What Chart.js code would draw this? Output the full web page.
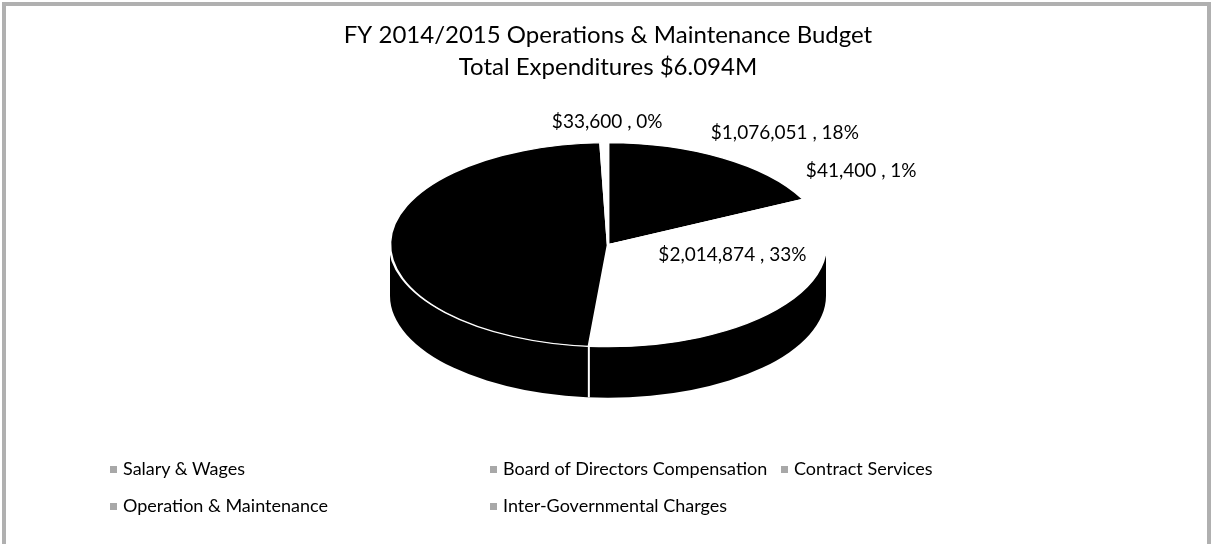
<!DOCTYPE html>
<html>
<head>
<meta charset="utf-8">
<script src="https://cdn.jsdelivr.net/npm/chart.js@4.4.1/dist/chart.umd.min.js"></script>
<style>
    html, body { margin: 0; padding: 0; background: #fff; }
    #wrap { position: relative; width: 1212px; height: 544px; overflow: hidden; }
    #frame {
        position: absolute; left: 2px; top: 2px; right: 1px; bottom: -10px;
        border: 4px solid #b0b0b0; pointer-events: none;
    }
    .legend-item {
        position: absolute; font-family: Lato, sans-serif; font-size: 18px; color: #000;
        white-space: nowrap; transform: translateY(-50%);
    }
    .legend-item i {
        display: inline-block; width: 7px; height: 7px; margin-right: 6px;
        vertical-align: middle; position: relative; top: -1px;
    }
</style>
</head>
<body>
<div id="wrap">
    <canvas id="budgetPie" width="1212" height="544"></canvas>
    <div id="legend"></div>
    <div id="frame"></div>
</div>
<script>
// data
const categories = [
    'Salary & Wages',
    'Board of Directors Compensation',
    'Contract Services',
    'Operation & Maintenance',
    'Inter-Governmental Charges',
];
const amounts = [1076051, 41400, 2014874, 2928075, 33600];
const percentLabels = ['18%', '1%', '33%', '48%', '0%'];
const titleLines = ['FY 2014/2015 Operations & Maintenance Budget', 'Total Expenditures $6.094M'];

// styling
const sliceColors = ['#000000', '#ffffff', '#ffffff', '#000000', '#ffffff'];
const labelColors = ['#000000', '#000000', '#000000', '#000000', '#000000'];
const legendMarker = '#a8a8a8';
// label nudges from the slice's rim point (dx, dy)
const labelOffsets = [[62, -25], [56, -30], [-53, -49], [109, 0], [3, -21]];
const legendCols = [110, 490, 781];
const legendRows = [468, 505];

// squashes the pie into a tilted disc and draws the wall under it
const pie3d = {
    id: 'pie3d',
    beforeDatasetsDraw(chart, args, opts) {
        const ctx = chart.ctx;
        const arcs = chart.getDatasetMeta(0).data;
        const { x: cx, y: cy, outerRadius: r } = arcs[0].getProps(['x', 'y', 'outerRadius'], true);
        const ry = r * opts.tilt;
        ctx.save();

        // front wall
        ctx.beginPath();
        ctx.ellipse(cx, cy, r, ry, 0, 0, Math.PI, false);
        ctx.lineTo(cx - r, cy + opts.depth);
        ctx.ellipse(cx, cy + opts.depth, r, ry, 0, Math.PI, 0, true);
        ctx.closePath();
        ctx.fillStyle = opts.sideColor;
        ctx.fill();

        // seams on the wall where two slices meet
        ctx.strokeStyle = '#ffffff';
        ctx.lineWidth = 2;
        arcs.forEach((a) => {
            let ang = a.startAngle % (2 * Math.PI);
            if (ang < 0) ang += 2 * Math.PI;
            if (ang > 0.02 && ang < Math.PI - 0.02) {
                const x = cx + r * Math.cos(ang);
                const y = cy + ry * Math.sin(ang);
                ctx.beginPath();
                ctx.moveTo(x, y);
                ctx.lineTo(x, y + opts.depth);
                ctx.stroke();
            }
        });

        // top face
        ctx.translate(cx, cy);
        ctx.scale(1, opts.tilt);
        ctx.translate(-cx, -cy);
    },
    afterDatasetsDraw(chart) {
        chart.ctx.restore();
    },
};

// "$x , y%" labels
const sliceLabels = {
    id: 'sliceLabels',
    afterDraw(chart, args, opts) {
        const ctx = chart.ctx;
        const tilt = chart.options.plugins.pie3d.tilt;
        const arcs = chart.getDatasetMeta(0).data;
        ctx.save();
        ctx.font = opts.font;
        ctx.textAlign = 'center';
        ctx.textBaseline = 'middle';
        arcs.forEach((a, i) => {
            const mid = (a.startAngle + a.endAngle) / 2;
            const x = a.x + a.outerRadius * Math.cos(mid) + labelOffsets[i][0];
            const y = a.y + a.outerRadius * tilt * Math.sin(mid) + labelOffsets[i][1];
            ctx.fillStyle = labelColors[i];
            ctx.fillText('$' + amounts[i].toLocaleString('en-US') + ' , ' + percentLabels[i], x, y);
        });
        ctx.restore();
    },
};

const budgetChart = new Chart(document.getElementById('budgetPie'), {
    type: 'pie',
    data: {
        labels: categories,
        datasets: [{
            data: amounts,
            backgroundColor: sliceColors,
            borderColor: '#ffffff',
            borderWidth: 2.5,
        }],
    },
    options: {
        responsive: false,
        animation: false,
        events: [],
        radius: 218,
        layout: { padding: { top: 10, bottom: 147, left: 304, right: 300 } },
        plugins: {
            legend: { display: false },
            tooltip: { enabled: false },
            title: {
                display: true,
                text: titleLines,
                color: '#000000',
                padding: { top: 10, bottom: 10 },
                font: { family: 'Lato, sans-serif', size: 24, weight: 'normal', lineHeight: 1.3 },
            },
            pie3d: { tilt: 0.468, depth: 51, sideColor: '#000000' },
            sliceLabels: { font: '19px Lato, sans-serif' },
        },
    },
    plugins: [pie3d, sliceLabels],
});

// legend laid out like the original three-column grid
const legendBox = document.getElementById('legend');
categories.forEach((name, i) => {
    const item = document.createElement('div');
    item.className = 'legend-item';
    item.style.left = legendCols[i % 3] + 'px';
    item.style.top = legendRows[Math.floor(i / 3)] + 'px';
    item.innerHTML = '<i style="background:' + legendMarker + '"></i>';
    item.appendChild(document.createTextNode(name));
    legendBox.appendChild(item);
});
</script>
</body>
</html>
